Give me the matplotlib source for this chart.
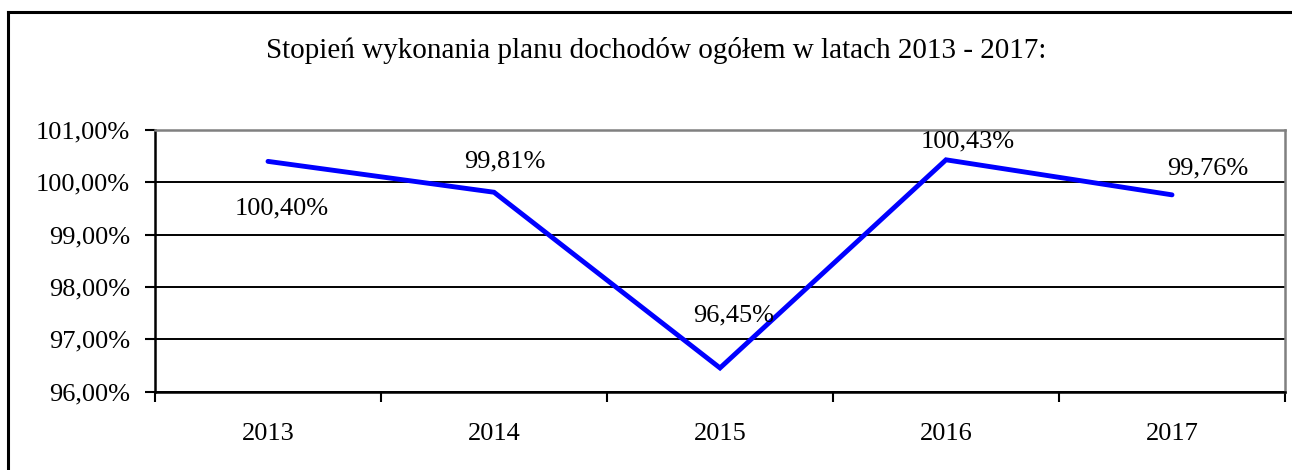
import matplotlib
matplotlib.use("Agg")
import matplotlib.pyplot as plt
from matplotlib.lines import Line2D
from matplotlib.ticker import FixedLocator, FuncFormatter

years = ["2013", "2014", "2015", "2016", "2017"]
values = [100.40, 99.81, 96.45, 100.43, 99.76]
label_texts = ["100,40%", "99,81%", "96,45%", "100,43%", "99,76%"]
title = "Stopień wykonania planu dochodów ogółem w latach 2013 - 2017:"

# label offsets in points (dx, dy)
label_offsets = [(10, -34), (8, 22), (10, 38), (16, 13), (26, 19)]

W, H = 1292, 470
fig = plt.figure(figsize=(W / 100, H / 100), dpi=100)
plt.rcParams['font.family'] = ['Liberation Serif', 'DejaVu Serif']

# outer frame (left and top edges visible)
fig.add_artist(Line2D([8 / W, 8 / W], [0, 1 - 12 / H], transform=fig.transFigure,
                      color='black', linewidth=2.2))
fig.add_artist(Line2D([8 / W, 1.0], [1 - 12 / H, 1 - 12 / H], transform=fig.transFigure,
                      color='black', linewidth=2.2))

left, right, top, bottom = 155, 1285, 130, 391.5
ax = fig.add_axes([left / W, 1 - bottom / H, (right - left) / W, (bottom - top) / H])

x = list(range(len(years)))
ax.plot(x, values, color='#0000FF', linewidth=3.5, solid_capstyle='round',
        solid_joinstyle='miter', zorder=3)

ax.set_xlim(-0.5, len(years) - 0.5)
ax.set_ylim(96, 101)

ax.yaxis.set_major_locator(FixedLocator([96, 97, 98, 99, 100, 101]))
ax.yaxis.set_major_formatter(FuncFormatter(lambda v, p: f"{v:.2f}".replace('.', ',') + "%"))
ax.grid(axis='y', color='black', linewidth=1.4, zorder=1)

ax.set_xticks([i - 0.5 for i in range(len(years) + 1)])
ax.set_xticklabels([])
ax.set_xticks(x, minor=True)
ax.set_xticklabels(years, minor=True)
ax.tick_params(axis='x', which='minor', length=0, pad=23, labelsize=19)
ax.tick_params(axis='x', which='major', length=7, width=1.5, direction='out', color='black')
ax.tick_params(axis='y', length=7, width=1.5, direction='out', labelsize=19, pad=11)

for s in ['left', 'bottom']:
    ax.spines[s].set_color('black')
    ax.spines[s].set_linewidth(1.8)
for s in ['top', 'right']:
    ax.spines[s].set_color('#808080')
    ax.spines[s].set_linewidth(1.8)

for xi, v, t, (dx, dy) in zip(x, values, label_texts, label_offsets):
    ax.annotate(t, (xi, v), xytext=(dx, dy), textcoords='offset points',
                ha='center', va='center', fontsize=19, zorder=4)

fig.text(656 / W, 1 - 50 / H, title, ha='center', va='center', fontsize=21)

fig.savefig("out.png", dpi=100)
